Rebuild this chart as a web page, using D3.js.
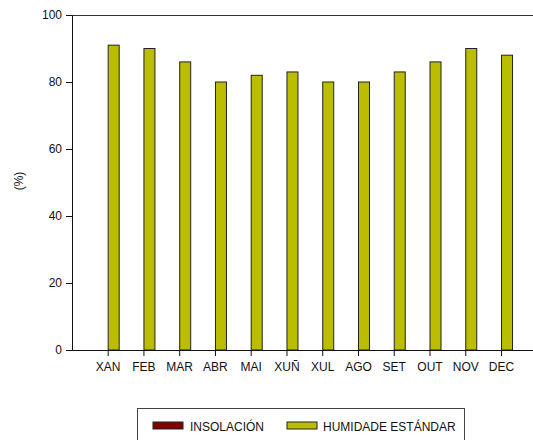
<!DOCTYPE html>
<html><head><meta charset="utf-8">
<script src="https://cdn.jsdelivr.net/npm/d3@7"></script>
<style>body{margin:0;background:#fff}svg{display:block}text{font-family:"Liberation Sans",Arial,sans-serif}</style>
</head><body><svg id="c" width="533" height="440"></svg>
<script>
const months = ["XAN","FEB","MAR","ABR","MAI","XUÑ","XUL","AGO","SET","OUT","NOV","DEC"];
const seriesNames = ["INSOLACIÓN","HUMIDADE ESTÁNDAR"];
const insolacion = [0,0,0,0,0,0,0,0,0,0,0,0];
const humidade = [91,90,86,80,82,83,80,80,83,86,90,88];
const yTicks = [0,20,40,60,80,100];
const colors = ["#800000","#BBBE00"];
const FONT = "'Liberation Sans', Arial, sans-serif";

const svg = d3.select("#c");
const mLeft = 72, mTop = 15, mBottom = 350;
const x = d3.scaleBand().domain(months).range([90.3, 519.4]).paddingInner(0).paddingOuter(0);
const y = d3.scaleLinear().domain([0,100]).range([mBottom, mTop]);
const barW = 11;
const series = [insolacion, humidade];

// top frame line
svg.append("line").attr("x1",mLeft).attr("x2",540).attr("y1",mTop+0.5).attr("y2",mTop+0.5)
  .attr("stroke","#333").attr("stroke-width",1);

// bars
series.forEach((vals,si)=>{
  svg.append("g").selectAll("rect").data(vals).join("rect")
    .attr("x",(d,i)=>x(months[i])+x.bandwidth()/2 + (si===0 ? -barW : 0))
    .attr("y",d=>y(d))
    .attr("width",barW)
    .attr("height",d=>y(0)-y(d))
    .attr("fill",colors[si])
    .attr("stroke",d=>d>0?"#222":"none")
    .attr("stroke-width",1);
});

// y axis
const ya = svg.append("g").attr("transform",`translate(${mLeft},0)`)
  .call(d3.axisLeft(y).tickValues(yTicks).tickSize(6).tickSizeOuter(0).tickPadding(4));
// x axis
const xa = svg.append("g").attr("transform",`translate(0,${mBottom})`)
  .call(d3.axisBottom(x).tickSize(6).tickSizeOuter(0).tickPadding(6));
xa.select(".domain").attr("d",`M${mLeft},0.5H540`);
[ya,xa].forEach(a=>{
  a.attr("font-family",FONT);
  a.selectAll("text").attr("font-size",12).attr("fill","#111").attr("font-family",FONT);
  a.selectAll("line,path").attr("stroke","#111");
});

// y label
svg.append("text").attr("transform","translate(23,181) rotate(-90)")
  .attr("text-anchor","middle").attr("font-size",12).attr("font-family",FONT).attr("fill","#111").text("(%)");

// legend
const lg = svg.append("g");
lg.append("rect").attr("x",137.5).attr("y",408.5).attr("width",327).attr("height",40)
  .attr("fill","none").attr("stroke","#444");
const lx = [153, 287], tx = [190, 323];
seriesNames.forEach((n,i)=>{
  lg.append("rect").attr("x",lx[i]).attr("y",422).attr("width",30).attr("height",7)
    .attr("fill",colors[i]).attr("stroke","#222").attr("stroke-width",1);
  lg.append("text").attr("x",tx[i]).attr("y",430.5).attr("font-size",12).attr("font-family",FONT).attr("fill","#111").text(n);
});
</script></body></html>
